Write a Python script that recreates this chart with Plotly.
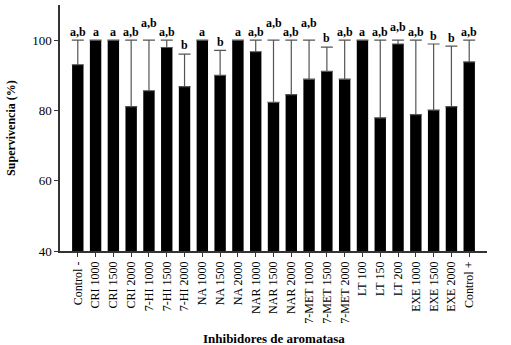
import plotly.graph_objects as go

categories = ["Control -", "CRI 1000", "CRI 1500", "CRI 2000", "7-HI 1000", "7-HI 1500",
              "7-HI 2000", "NA 1000", "NA 1500", "NA 2000", "NAR 1000", "NAR 1500",
              "NAR 2000", "7-MET 1000", "7-MET 1500", "7-MET 2000", "LT 100", "LT 150",
              "LT 200", "EXE 1000", "EXE 1500", "EXE 2000", "Control +"]
survival = [93.0, 100, 100, 81.1, 85.6, 97.9, 86.8, 100, 90.0, 100, 96.7, 82.3,
            84.5, 88.9, 91.1, 88.9, 100, 77.9, 98.9, 78.8, 80.1, 81.1, 93.8]
error_up = [7.0, 0, 0, 18.9, 14.4, 2.1, 9.2, 0, 7.1, 0, 3.3, 17.7,
            15.5, 11.1, 6.9, 11.1, 0, 22.1, 1.1, 21.2, 18.8, 17.2, 6.2]
letters = ["a,b", "a", "a", "a,b", "a,b", "a,b", "b", "a", "b", "a", "a,b", "a,b",
           "a,b", "a,b", "b", "a,b", "a", "a,b", "a,b", "a,b", "b", "b", "a,b"]

# label lift above the error bar top (px), staggered where labels would collide
label_shift = [8, 8, 8, 8, 17, 8, 9, 8, 8, 8, 8, 17,
               8, 17, 9, 8, 8, 8, 13, 8, 8, 8, 8]

serif = "Liberation Serif, Times New Roman, serif"

fig = go.Figure()
fig.add_trace(go.Bar(
    x=categories, y=survival,
    marker=dict(color="black", line=dict(width=0)),
    width=0.64,
    error_y=dict(type="data", symmetric=False, array=error_up,
                 arrayminus=[0] * len(error_up),
                 color="#555555", thickness=1.2, width=6),
))

for c, v, e, t, s in zip(categories, survival, error_up, letters, label_shift):
    fig.add_annotation(x=c, y=v + e, text="<b>" + t + "</b>", showarrow=False,
                       yanchor="middle", yshift=s,
                       font=dict(family=serif, size=12, color="black"))

fig.update_layout(
    width=511, height=345,
    margin=dict(l=60, r=24, t=5, b=94),
    plot_bgcolor="white", paper_bgcolor="white",
    showlegend=False,
    font=dict(family=serif, color="black"),
)
fig.update_xaxes(
    range=[-1.0, 23.0], showline=True, linecolor="#333333", linewidth=1.5,
    ticks="outside", ticklen=4, tickcolor="#333333", tickangle=-90,
    tickfont=dict(family=serif, size=12, color="black"),
    showgrid=False, automargin=False,
)
fig.update_yaxes(
    range=[40, 110], tickvals=[40, 60, 80, 100], showline=True,
    linecolor="#333333", linewidth=1.5, ticks="outside", ticklen=4,
    tickcolor="#333333", tickfont=dict(family=serif, size=13, color="black"),
    showgrid=False, zeroline=False, automargin=False,
)
fig.add_annotation(text="<b>Supervivencia (%)</b>", xref="paper", yref="paper",
                   x=-0.115, y=0.5, xanchor="center", yanchor="middle",
                   textangle=-90, showarrow=False,
                   font=dict(family=serif, size=12, color="black"))
fig.add_annotation(text="<b>Inhibidores de aromatasa</b>", xref="paper", yref="paper",
                   x=0.5, y=-0.354, xanchor="center", yanchor="middle",
                   showarrow=False,
                   font=dict(family=serif, size=13, color="black"))

fig.write_html("out.html", config={"displayModeBar": False},
               post_script="document.body.style.margin='0';document.body.style.padding='0';")
